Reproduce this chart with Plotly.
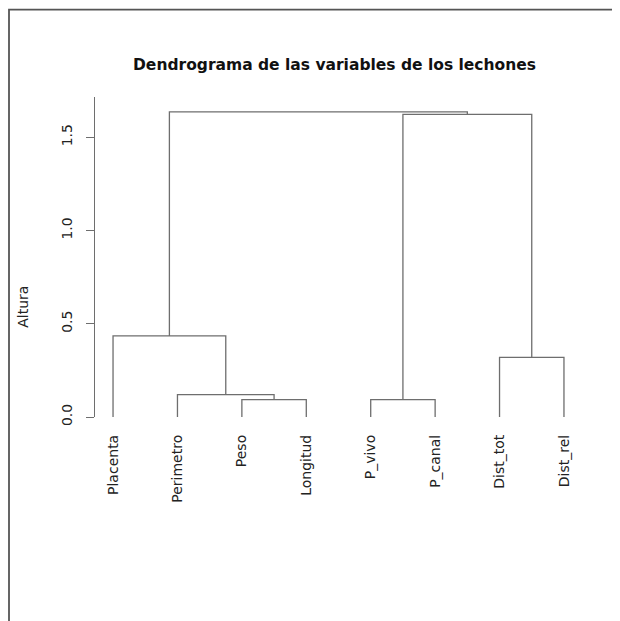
import plotly.graph_objects as go

# Leaf labels in dendrogram order
labels = ["Placenta", "Perimetro", "Peso", "Longitud", "P_vivo", "P_canal", "Dist_tot", "Dist_rel"]
# R-style merge matrix: negative = leaf (1-based), positive = earlier merge (1-based)
merge_a = [-3, -5, -2, -7, -1, 2, 5]
merge_b = [-4, -6, 1, -8, 3, 4, 6]
merge_height = [0.093, 0.093, 0.12, 0.32, 0.435, 1.623, 1.636]
y_ticks = [0.0, 0.5, 1.0, 1.5]
y_tick_text = ["0.0", "0.5", "1.0", "1.5"]

LINE = "#6e6e6e"
FONT = "DejaVu Sans"

# Build dendrogram segments from the merge structure
centers = {}
heights = {}
xs, ys = [], []


def node_pos(k):
    if k < 0:
        return float(-k), 0.0
    return centers[k], heights[k]


for i, (a, b, h) in enumerate(zip(merge_a, merge_b, merge_height), start=1):
    xa, ha = node_pos(a)
    xb, hb = node_pos(b)
    xs += [xa, xa, xb, xb, None]
    ys += [ha, h, h, hb, None]
    centers[i] = (xa + xb) / 2
    heights[i] = h

fig = go.Figure()
fig.add_trace(go.Scatter(x=xs, y=ys, mode="lines",
                         line=dict(color=LINE, width=1.3),
                         hoverinfo="skip", showlegend=False, cliponaxis=False))

# page body adds an 8px offset; plot area is 95..582 x, 97..417.3 y on screen
n = len(labels)
fig.update_layout(
    width=620, height=621,
    margin=dict(l=87, r=46, t=89, b=211.7),
    paper_bgcolor="white", plot_bgcolor="white",
    font=dict(family=FONT, color="#222222"),
    xaxis=dict(range=[0.72, n + 0.28], tickvals=list(range(1, n + 1)), ticktext=labels,
               tickangle=-90, showgrid=False, zeroline=False, showline=False,
               ticks="", ticklabelstandoff=14, tickfont=dict(size=14, family=FONT, color="#222222")),
    yaxis=dict(range=[0, 1.716], tickvals=y_ticks, ticktext=y_tick_text, tickangle=-90,
               showgrid=False, zeroline=False, showline=True, linecolor=LINE, linewidth=1.3,
               ticks="outside", ticklen=8, tickcolor=LINE, tickwidth=1.3,
               ticklabelstandoff=8, tickfont=dict(size=14, family=FONT, color="#222222")),
    shapes=[dict(type="rect", xref="paper", yref="paper",
                 x0=(9 - 95) / 487, x1=(640 - 95) / 487,
                 y0=(417.3 - 640) / 320.3, y1=1 + (97 - 9.5) / 320.3,
                 line=dict(color="#555555", width=1.8), layer="below")],
    annotations=[
        dict(text="<b>Dendrograma de las variables de los lechones</b>", xref="paper", yref="paper",
             x=(334 - 95) / 487, y=1 + (97 - 65) / 320.3, xanchor="center", yanchor="middle",
             showarrow=False, font=dict(size=15.5, family=FONT, color="#111111")),
        dict(text="Altura", xref="paper", yref="paper",
             x=(23 - 95) / 487, y=(417.3 - 307) / 320.3, xanchor="center", yanchor="middle",
             textangle=-90, showarrow=False, font=dict(size=14, family=FONT, color="#222222")),
    ],
)

fig.write_html("out.html")
